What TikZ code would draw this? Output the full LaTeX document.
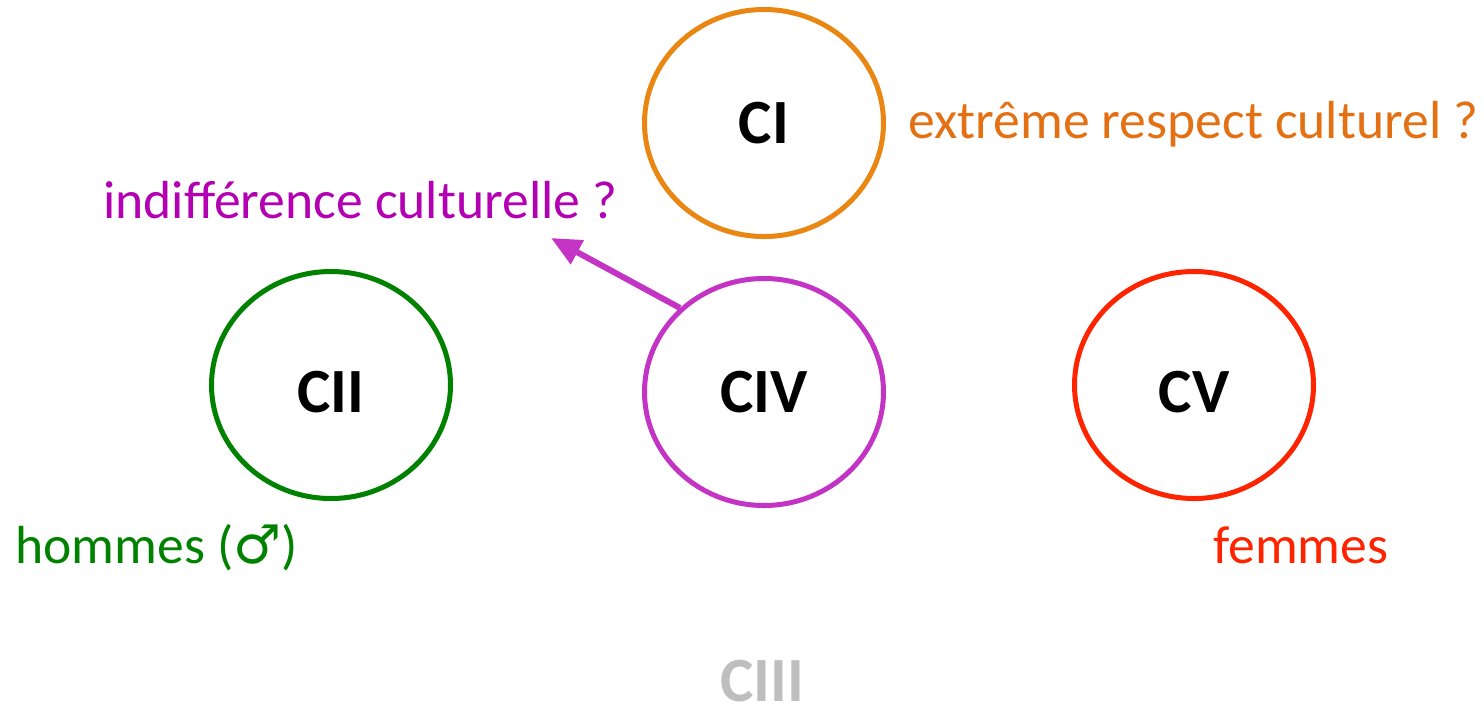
\documentclass[tikz,border=0pt]{standalone}
\usepackage{fontspec}
\setmainfont{Carlito}
\newfontfamily\symbfont{DejaVu Sans}
\usepackage{color}
\definecolor{myorange}{RGB}{234,134,18}
\definecolor{mytextorange}{RGB}{228,112,20}
\definecolor{mygreen}{RGB}{0,130,0}
\definecolor{mypurple}{RGB}{196,52,196}
\definecolor{mytextpurple}{RGB}{178,0,178}
\definecolor{myred}{RGB}{255,36,0}
\definecolor{mygray}{RGB}{190,190,190}
\usetikzlibrary{shapes.geometric,arrows.meta,positioning}
\tikzstyle{cvertex}=[draw,ellipse,line width=2.5pt,minimum width=119.5pt,minimum height=113.5pt,inner sep=0pt]
\tikzstyle{ctext}=[black,inner sep=0pt,font=\fontsize{31.5}{36}\selectfont\bfseries]
\tikzstyle{txtlabel}=[inner sep=0pt,anchor=base west,font=\fontsize{26.8}{32}\selectfont]

\begin{document}
\begin{tikzpicture}[x=0.5pt,y=-0.5pt]
\useasboundingbox (0,0) rectangle (1484,709);
\node [cvertex, myorange, label={[ctext]center:CI}] (c1) at (764,123) {};
\node [cvertex, mygreen, label={[ctext,yshift=-3.75pt]center:CII}] (c2) at (331,385) {};
\node [cvertex, mypurple, label={[ctext]center:CIV}] (c4) at (764,392) {};
\node [cvertex, myred, label={[ctext,yshift=-3.75pt]center:CV}] (c5) at (1194,385) {};
\node [ctext, mygray, anchor=base] (c3) at (762,701) {CIII};
% labels
\node [txtlabel, mytextorange] (respect) at (908,138) {extrême respect culturel ?};
\node [txtlabel, mytextpurple] (indiff) at (103,218) {indifférence culturelle ?};
\node [txtlabel, mygreen] (hommes) at (15,563) {hommes ({\symbfont ♂})};
\node [txtlabel, myred] (femmes) at (1213,563) {femmes};
\coordinate (tip) at (551,238);
\draw [mypurple, line width=3pt, -{Triangle[length=15pt,width=13pt]}] (c4.135) -- (tip);
\end{tikzpicture}
\end{document}
